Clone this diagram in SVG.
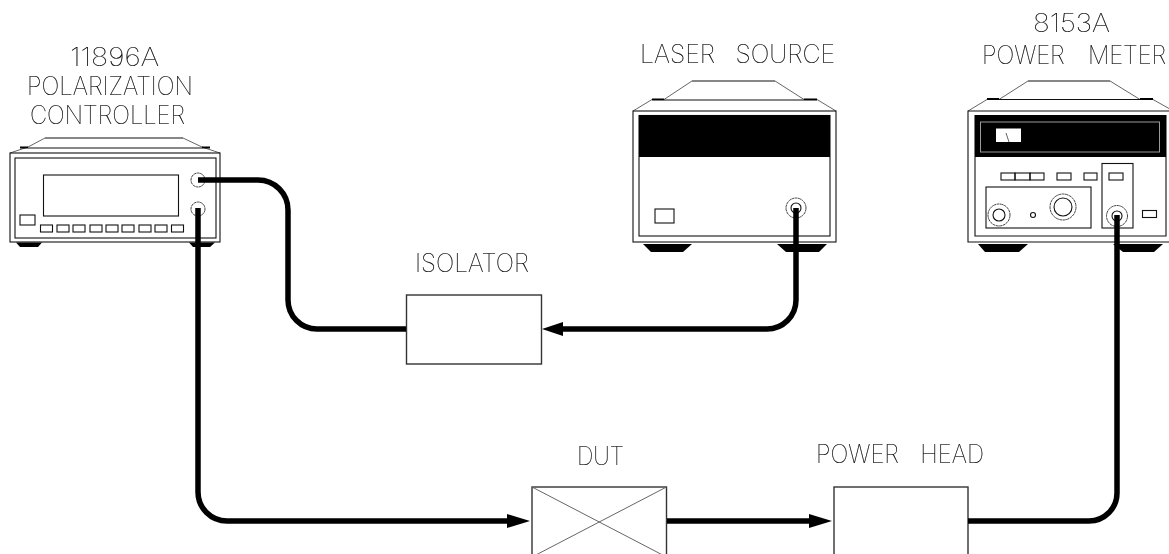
<svg xmlns="http://www.w3.org/2000/svg" width="1169" height="554" viewBox="0 0 1169 554">
<defs><filter id="gray" x="-200" y="-200" width="1800" height="1000" filterUnits="userSpaceOnUse" color-interpolation-filters="sRGB"><feOffset dx="0" dy="0"/></filter></defs>
<style>
.o{fill:none;stroke:#111;stroke-width:1.1}
.b{fill:none;stroke:#333;stroke-width:1.4}
.t{fill:none;stroke:#444;stroke-width:1;stroke-dasharray:3 .5}
.d{fill:none;stroke:#666;stroke-width:1}
.h{fill:none;stroke:#000;stroke-width:2}
.k{fill:#000;stroke:none}
.w{fill:none;stroke:#000;stroke-width:5.500}
.a{fill:#000}
text{font-family:"Inter","Liberation Sans",sans-serif;font-weight:100;font-size:26px;fill:#000;stroke:#000;stroke-width:.2;word-spacing:14px;filter:url(#gray)}
</style>
<rect width="1169" height="554" fill="#fff"/>
<g id="controller">
<text x="70" y="66" textLength="89" lengthAdjust="spacingAndGlyphs">11896A</text>
<text x="27" y="95" textLength="166" lengthAdjust="spacingAndGlyphs">POLARIZATION</text>
<text x="30" y="124" textLength="155" lengthAdjust="spacingAndGlyphs">CONTROLLER</text>
<path class="d" d="M10 153L28 147L45 138M183 138L202 147L220 153"/>
<path class="o" d="M45 138H183M28 148H202"/>
<path class="h" d="M20 147.500H28M202 147.500H210"/>
<rect class="o" x="10" y="153" width="210" height="89"/>
<rect class="o" x="15" y="158" width="201" height="80"/>
<rect class="o" x="43.500" y="175" width="135" height="41"/>
<rect class="o" x="20" y="215" width="15" height="10"/>
<g id="keys"><rect class="o" x="40.500" y="225" width="12" height="7"/><rect class="o" x="57" y="225" width="12" height="7"/><rect class="o" x="73" y="225" width="12" height="7"/><rect class="o" x="90" y="225" width="12" height="7"/><rect class="o" x="106" y="225" width="12" height="7"/><rect class="o" x="122" y="225" width="12" height="7"/><rect class="o" x="139" y="225" width="12" height="7"/><rect class="o" x="155" y="225" width="12" height="7"/><rect class="o" x="171.500" y="225" width="12" height="7"/></g>
<circle class="t" cx="198" cy="180" r="7"/>
<circle class="t" cx="198" cy="209" r="7"/>
<path class="k" d="M16 242.500H42L38 247H20ZM189 242.500H215L210 247H193Z"/>
</g>
<g id="laser">
<text x="640" y="63" textLength="195" lengthAdjust="spacingAndGlyphs">LASER SOURCE</text>
<path class="d" d="M633 111L652 99.500M664 99.500L692 81M775 81L804 99.500M817 99.500L836 111"/>
<path class="o" d="M692 81H775M664 100H804"/>
<path class="h" d="M652 99.500H664M804 99.500H817"/>
<rect class="o" x="633" y="111" width="203" height="131"/>
<rect class="o" x="639" y="115.500" width="191" height="120.500"/>
<rect class="k" x="639" y="115" width="191" height="42"/>
<rect class="o" x="655" y="209" width="19" height="14"/>
<circle class="t" cx="796" cy="208" r="10"/>
<circle class="o" cx="796" cy="208" r="5"/>
<path class="k" d="M643 244H692L683 252H651ZM777 244H827L819 252H786Z"/>
</g>
<g id="meter">
<text x="1033" y="32" textLength="77" lengthAdjust="spacingAndGlyphs">8153A</text>
<text x="1073.200" y="64" transform="scale(.915 1)" style="word-spacing:18px">POWER METER</text>
<path class="d" d="M968 111L987 99.500M999 99.500L1028 81M1110 81L1140 99.500M1153 99.500L1169 108.500"/>
<path class="o" d="M1028 81H1110M999 99.500H1140"/>
<path class="h" d="M987 99H999M1140 99H1153"/>
<path class="o" d="M1169 111H968V242H1169"/>
<path class="o" d="M1166 115.500H975V236H1166Z"/>
<rect class="k" x="975" y="115" width="191" height="42"/>
<rect class="d" x="980.500" y="122" width="179" height="30" style="stroke:#999"/>
<rect x="996" y="128.500" width="25" height="13.500" fill="#fff"/>
<path class="d" d="M1006 133L1009 142"/>
<g id="buttons"><rect class="o" x="1001" y="173" width="14" height="7"/><rect class="o" x="1015" y="173" width="15" height="7"/><rect class="o" x="1030" y="173" width="14" height="7"/><rect class="o" x="1057" y="173" width="14" height="7"/><rect class="o" x="1084" y="173" width="13" height="7"/><rect class="o" x="1109" y="173" width="14" height="7"/></g>
<rect class="o" x="986" y="187" width="105" height="41"/>
<circle class="t" cx="999" cy="215" r="11"/>
<circle class="o" cx="999" cy="215" r="6"/>
<circle class="o" cx="1033" cy="215" r="2.500"/>
<circle class="t" cx="1063" cy="207" r="13"/>
<circle class="o" cx="1063" cy="207" r="9"/>
<rect class="o" x="1102" y="163.500" width="31" height="64.500"/>
<circle class="t" cx="1117" cy="216" r="10.500"/>
<circle class="o" cx="1117" cy="216" r="5"/>
<rect class="o" x="1142.500" y="210.500" width="14" height="7"/>
<path class="k" d="M978 244H1028L1019 252H985ZM1113 244H1163L1154 252H1123Z"/>
</g>
<g id="isolator">
<text x="415" y="272" textLength="114" lengthAdjust="spacingAndGlyphs">ISOLATOR</text>
<rect class="b" x="406.500" y="295" width="135" height="69"/>
</g>
<g id="dut">
<text x="577" y="465" textLength="47" lengthAdjust="spacingAndGlyphs">DUT</text>
<rect class="b" x="532" y="487" width="134.500" height="80"/>
<path class="d" d="M532 487L666.500 557M532 557L666.500 487"/>
</g>
<g id="head">
<text x="816" y="463" textLength="168" lengthAdjust="spacingAndGlyphs" style="word-spacing:16px">POWER HEAD</text>
<rect class="b" x="834" y="487" width="134" height="80"/>
</g>
<g id="connectors">
<path class="w" d="M198 180H258A30 30 0 0 1 288 210V300A29 29 0 0 0 317 329H406"/>
<path class="w" d="M796 208V300A29 29 0 0 1 767 329H560"/>
<path class="a" d="M542 329L563 322V336Z"/>
<path class="w" d="M198 208V492A29 29 0 0 0 227 521H510"/>
<path class="a" d="M530 521L507 514V528Z"/>
<path class="w" d="M667 521H812"/>
<path class="a" d="M832 521L809 514V528Z"/>
<path class="w" d="M968 521H1089A28 28 0 0 0 1117 493V215"/>
</g>
</svg>
